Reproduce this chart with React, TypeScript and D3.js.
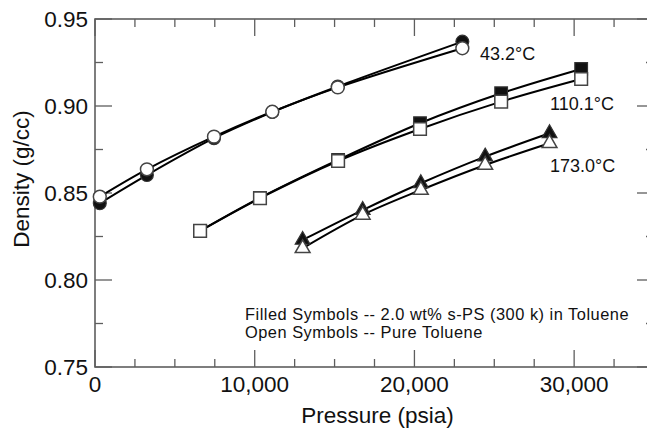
import React from "react";
import * as d3 from "d3";

// ---- Data ----
const circlePressure = [300, 3250, 7450, 11100, 15200, 23000];
const circleFilled = [0.8441, 0.8603, 0.8815, 0.8965, 0.9112, 0.937];
const circleOpen = [0.8479, 0.8636, 0.8824, 0.8967, 0.9107, 0.9332];

const squarePressure = [6580, 10330, 15220, 20350, 25430, 30440];
const squareFilled = [0.8282, 0.8472, 0.869, 0.8901, 0.9073, 0.9213];
const squareOpen = [0.8282, 0.847, 0.8684, 0.8868, 0.9025, 0.9155];

const trianglePressure = [13000, 16760, 20400, 24430, 28460];
const triangleFilled = [0.823, 0.8402, 0.8556, 0.8709, 0.8843];
const triangleOpen = [0.8182, 0.8374, 0.8517, 0.8661, 0.8786];

const xTicks = [0, 10000, 20000, 30000];
const xTickLabels = ["0", "10,000", "20,000", "30,000"];
const yTicks = [0.75, 0.8, 0.85, 0.9, 0.95];
const yTickLabels = ["0.75", "0.80", "0.85", "0.90", "0.95"];

const seriesLabels = ["43.2°C", "110.1°C", "173.0°C"];
const noteLines = [
  "Filled Symbols -- 2.0 wt% s-PS (300 k) in Toluene",
  "Open Symbols -- Pure Toluene",
];

const W = 647;
const H = 430;
const left = 95;
const right = 654;
const top = 19;
const bottom = 367;

const FONT = "'Liberation Sans', Arial, Helvetica, sans-serif";

export default function App() {
  const x = d3.scaleLinear().domain([0, 35000]).range([left, right]);
  const y = d3.scaleLinear().domain([0.75, 0.95]).range([bottom, top]);

  const xMinor = d3.range(0, 35001, 2500).filter((v) => v % 10000 !== 0);
  const yMinor = [0.775, 0.825, 0.875, 0.925];

  const line = d3
    .line<[number, number]>()
    .x((d) => x(d[0]))
    .y((d) => y(d[1]))
    .curve(d3.curveCatmullRom.alpha(0.5));

  const zip = (a: number[], b: number[]) => a.map((v, i) => [v, b[i]] as [number, number]);

  const series = [
    { p: circlePressure, f: circleFilled, o: circleOpen, shape: "circle" },
    { p: squarePressure, f: squareFilled, o: squareOpen, shape: "square" },
    { p: trianglePressure, f: triangleFilled, o: triangleOpen, shape: "triangle" },
  ];

  const sym = {
    circle: d3.symbol().type(d3.symbolCircle).size(130)(),
    square: d3.symbol().type(d3.symbolSquare).size(160)(),
    triangle: d3.symbol().type(d3.symbolTriangle).size(95)(),
  } as Record<string, string | null>;

  const axisColor = "#5e5e5e";
  const majorLen = 17;
  const minorLen = 8;

  return (
    <svg
      width={W}
      height={H}
      style={{ position: "absolute", left: 0, top: 0, background: "#fff" }}
      fontFamily={FONT}
    >
      {/* frame */}
      <rect
        x={left}
        y={top}
        width={right - left}
        height={bottom - top}
        fill="none"
        stroke={axisColor}
        strokeWidth={1.6}
      />
      {/* x ticks */}
      {xTicks.map((t) => (
        <g key={"xt" + t} stroke={axisColor} strokeWidth={1.3}>
          <line x1={x(t)} x2={x(t)} y1={bottom} y2={bottom - majorLen} />
          <line x1={x(t)} x2={x(t)} y1={top} y2={top + majorLen} />
        </g>
      ))}
      {xMinor.map((t) => (
        <g key={"xm" + t} stroke={axisColor} strokeWidth={1.3}>
          <line x1={x(t)} x2={x(t)} y1={bottom} y2={bottom - minorLen} />
          <line x1={x(t)} x2={x(t)} y1={top} y2={top + minorLen} />
        </g>
      ))}
      {yTicks.map((t) => (
        <g key={"yt" + t} stroke={axisColor} strokeWidth={1.3}>
          <line x1={left} x2={left + majorLen} y1={y(t)} y2={y(t)} />
          <line x1={right} x2={right - majorLen} y1={y(t)} y2={y(t)} />
        </g>
      ))}
      {yMinor.map((t) => (
        <g key={"ym" + t} stroke={axisColor} strokeWidth={1.3}>
          <line x1={left} x2={left + minorLen} y1={y(t)} y2={y(t)} />
          <line x1={right} x2={right - minorLen} y1={y(t)} y2={y(t)} />
        </g>
      ))}
      {/* tick labels */}
      {xTicks.map((t, i) => (
        <text key={"xl" + t} x={x(t)} y={392} textAnchor="middle" fontSize={22.5} fill="#111">
          {xTickLabels[i]}
        </text>
      ))}
      {yTicks.map((t, i) => (
        <text
          key={"yl" + t}
          x={left - 7}
          y={y(t) + 8}
          textAnchor="end"
          fontSize={22.5}
          fill="#111"
        >
          {yTickLabels[i]}
        </text>
      ))}
      {/* axis titles */}
      <text x={(left + right) / 2 + 3} y={423} textAnchor="middle" fontSize={22.5} fill="#111">
        Pressure (psia)
      </text>
      <text
        transform={`translate(29, ${(top + bottom) / 2 - 14}) rotate(-90)`}
        textAnchor="middle"
        fontSize={22.5}
        fill="#111"
      >
        Density (g/cc)
      </text>

      {/* lines */}
      {series.map((s, i) => (
        <g key={"ln" + i} fill="none" stroke="#000" strokeWidth={2}>
          <path d={line(zip(s.p, s.f)) || ""} />
          <path d={line(zip(s.p, s.o)) || ""} />
        </g>
      ))}
      {/* filled markers */}
      {series.map((s, i) =>
        s.p.map((p, j) => (
          <path
            key={`f${i}-${j}`}
            d={sym[s.shape] || ""}
            transform={`translate(${x(p)},${y(s.f[j])})`}
            fill="#111"
            stroke="#333"
            strokeWidth={1.2}
          />
        ))
      )}
      {/* open markers */}
      {series.map((s, i) =>
        s.p.map((p, j) => (
          <path
            key={`o${i}-${j}`}
            d={sym[s.shape] || ""}
            transform={`translate(${x(p)},${y(s.o[j])})`}
            fill="#fff"
            stroke="#444"
            strokeWidth={1.5}
          />
        ))
      )}

      {/* series labels */}
      <text x={480} y={60} fontSize={18} fill="#111">{seriesLabels[0]}</text>
      <text x={550} y={110} fontSize={18} fill="#111">{seriesLabels[1]}</text>
      <text x={550} y={172} fontSize={18} fill="#111">{seriesLabels[2]}</text>

      {/* note */}
      {noteLines.map((t, i) => (
        <text
          key={"n" + i}
          x={245}
          y={319.5 + i * 18.8}
          fontSize={16.4}
          letterSpacing={0.5}
          fill="#111"
        >
          {t}
        </text>
      ))}
    </svg>
  );
}
